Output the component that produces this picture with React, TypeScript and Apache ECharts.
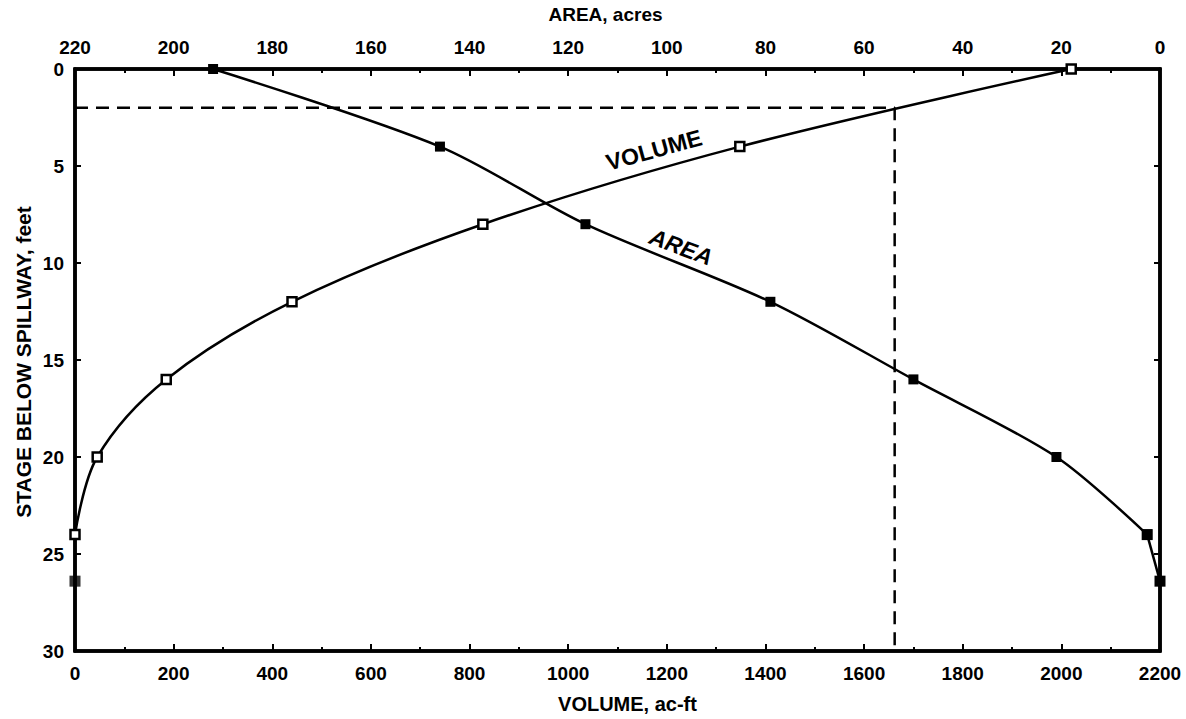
import React, { useEffect, useRef } from "react";
import * as echarts from "echarts";

// Stage below spillway, feet (measurement points)
const stages = [0, 4, 8, 12, 16, 20, 24];
// Reservoir volume, ac-ft, at each stage
const volumes = [2020, 1348, 827, 440, 185, 45, 0];
// Surface area, acres, at each stage
const areaStages = [0, 4, 8, 12, 16, 20, 24];
const areas = [192, 146, 116.5, 79, 50, 21, 2.6];
// Bottom of the pool: area reaches 0 at this stage
const bottomStage = 26.4;
const bottomArea = 0;
// Bottom (dead storage) point of the volume curve
const volumeBase = [[0, 26.4]];
// Dashed reading line: stage 2 ft -> volume
const readStage = 2;
const readVolume = 1662;

const FONT = "'Liberation Sans', Arial, Helvetica, sans-serif";

export default function App() {
  const ref = useRef<HTMLDivElement>(null);

  useEffect(() => {
    if (!ref.current) return;
    const chart = echarts.init(ref.current, undefined, { renderer: "svg" });
    const axisLine = { show: true, onZero: false, lineStyle: { color: "#000", width: 3.5 } };
    const labelStyle = { color: "#000", fontFamily: FONT, fontWeight: "bold" as const, fontSize: 19 };
    const plain = (v: number) => String(v);

    chart.setOption({
      animation: false,
      backgroundColor: "#fff",
      grid: { left: 75, right: 26, top: 67, bottom: 67, show: true, borderColor: "#000", borderWidth: 3.5 },
      xAxis: [
        {
          type: "value",
          position: "bottom",
          min: 0,
          max: 2200,
          interval: 200,
          name: "VOLUME, ac-ft",
          nameLocation: "middle",
          nameGap: 43,
          nameTextStyle: { color: "#000", fontFamily: FONT, fontWeight: "bold", fontSize: 20, padding: [0, 0, 0, 20] },
          axisLine,
          axisTick: { show: true, inside: true, length: 7, lineStyle: { color: "#000", width: 2 } },
          minorTick: { show: true, splitNumber: 2, length: 4, lineStyle: { color: "#000", width: 2 } },
          splitLine: { show: false },
          axisLabel: { ...labelStyle, margin: 13, formatter: plain },
        },
        {
          type: "value",
          position: "top",
          min: 0,
          max: 220,
          interval: 20,
          inverse: true,
          name: "AREA, acres",
          nameLocation: "middle",
          nameGap: 45,
          nameTextStyle: { color: "#000", fontFamily: FONT, fontWeight: "bold", fontSize: 19, padding: [0, 24, 0, 0] },
          axisLine,
          axisTick: { show: true, inside: true, length: 7, lineStyle: { color: "#000", width: 2 } },
          minorTick: { show: true, splitNumber: 2, length: 4, lineStyle: { color: "#000", width: 2 } },
          splitLine: { show: false },
          axisLabel: { ...labelStyle, margin: 12, formatter: plain },
        },
      ],
      yAxis: [
        {
          type: "value",
          position: "left",
          inverse: true,
          min: 0,
          max: 30,
          interval: 5,
          axisLine,
          axisTick: { show: true, inside: true, length: 6, lineStyle: { color: "#000", width: 2 } },
          splitLine: { show: false },
          axisLabel: { ...labelStyle, margin: 11, formatter: plain },
        },
        {
          type: "value",
          position: "right",
          inverse: true,
          min: 0,
          max: 30,
          interval: 5,
          axisLine,
          axisTick: { show: true, inside: true, length: 6, lineStyle: { color: "#000", width: 2 } },
          splitLine: { show: false },
          axisLabel: { show: false },
        },
      ],
      series: [
        {
          name: "Dashed",
          type: "line",
          xAxisIndex: 0,
          yAxisIndex: 0,
          data: [[0, readStage], [readVolume, readStage], [readVolume, 30]],
          symbol: "none",
          lineStyle: { color: "#000", width: 2.5, type: [13, 8] },
          z: 1,
        },
        {
          name: "VOLUME",
          type: "line",
          xAxisIndex: 0,
          yAxisIndex: 0,
          data: stages.map((s, i) => [volumes[i], s]),
          smooth: 0.35,
          symbol: "rect",
          symbolSize: 9,
          itemStyle: { color: "#fff", borderColor: "#000", borderWidth: 2.5 },
          lineStyle: { color: "#000", width: 2.5 },
          z: 3,
        },
        {
          name: "VolumeBase",
          type: "scatter",
          xAxisIndex: 0,
          yAxisIndex: 0,
          data: volumeBase,
          symbol: "rect",
          symbolSize: 11,
          itemStyle: { color: "#000" },
          z: 4,
        },
        {
          name: "AREA",
          type: "line",
          xAxisIndex: 1,
          yAxisIndex: 0,
          data: areaStages.map((s, i) => [areas[i], s]),
          smooth: 0.3,
          symbol: "rect",
          symbolSize: 10,
          itemStyle: { color: "#000" },
          lineStyle: { color: "#000", width: 2.5 },
          z: 3,
        },
        {
          name: "AREA bottom",
          type: "line",
          xAxisIndex: 1,
          yAxisIndex: 0,
          data: [
            [areas[areas.length - 1], areaStages[areaStages.length - 1]],
            [bottomArea, bottomStage],
          ],
          symbol: "rect",
          symbolSize: 11,
          itemStyle: { color: "#000" },
          lineStyle: { color: "#000", width: 2.5 },
          z: 3,
        },
      ],
      graphic: [
        {
          type: "text",
          x: 23,
          y: 362,
          rotation: Math.PI / 2,
          style: {
            text: "STAGE BELOW SPILLWAY, feet",
            fill: "#000",
            font: `bold 21px ${FONT}`,
            align: "center",
            verticalAlign: "middle",
          },
        },
        {
          type: "text",
          x: 654,
          y: 150,
          rotation: 0.27,
          style: {
            text: "VOLUME",
            fill: "#000",
            font: `900 23px ${FONT}`,
            align: "center",
            verticalAlign: "middle",
          },
        },
        {
          type: "text",
          x: 681,
          y: 247,
          rotation: -0.36,
          style: {
            text: "AREA",
            fill: "#000",
            font: `italic 900 23px ${FONT}`,
            align: "center",
            verticalAlign: "middle",
          },
        },
      ],
    });
    return () => chart.dispose();
  }, []);

  return (
    <div
      ref={ref}
      style={{ position: "fixed", left: 0, top: 0, width: 1186, height: 719, background: "#fff" }}
    />
  );
}
